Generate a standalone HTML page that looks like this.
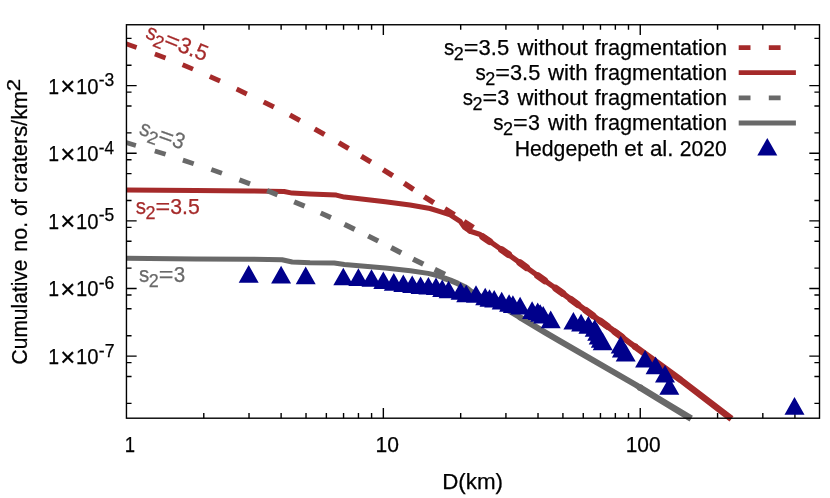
<!DOCTYPE html>
<html><head><meta charset="utf-8"><title>Cumulative crater plot</title>
<style>html,body{margin:0;padding:0;background:#fff}svg{display:block}text{font-family:"Liberation Sans",sans-serif;stroke-width:0.25px}</style></head><body>
<div style="width:830px;height:498px;will-change:transform"><svg width="830" height="498" viewBox="0 0 830 498">
<path d="M203.78 418.2v-5.1M203.78 24.75v5.1M249.02 418.2v-5.1M249.02 24.75v5.1M281.12 418.2v-5.1M281.12 24.75v5.1M306.02 418.2v-5.1M306.02 24.75v5.1M326.36 418.2v-5.1M326.36 24.75v5.1M343.56 418.2v-5.1M343.56 24.75v5.1M358.45 418.2v-5.1M358.45 24.75v5.1M371.59 418.2v-5.1M371.59 24.75v5.1M383.35 418.2v-10.2M383.35 24.75v10.2M460.68 418.2v-5.1M460.68 24.75v5.1M505.92 418.2v-5.1M505.92 24.75v5.1M538.02 418.2v-5.1M538.02 24.75v5.1M562.92 418.2v-5.1M562.92 24.75v5.1M583.26 418.2v-5.1M583.26 24.75v5.1M600.46 418.2v-5.1M600.46 24.75v5.1M615.35 418.2v-5.1M615.35 24.75v5.1M628.49 418.2v-5.1M628.49 24.75v5.1M640.25 418.2v-10.2M640.25 24.75v10.2M717.58 418.2v-5.1M717.58 24.75v5.1M762.82 418.2v-5.1M762.82 24.75v5.1M794.92 418.2v-5.1M794.92 24.75v5.1M126.45 403.34h5.1M819.5 403.34h-5.1M126.45 376.44h5.1M819.5 376.44h-5.1M126.45 362.63h5.1M819.5 362.63h-5.1M126.45 356.08h10.2M819.5 356.08h-10.2M126.45 335.72h5.1M819.5 335.72h-5.1M126.45 308.82h5.1M819.5 308.82h-5.1M126.45 295.01h5.1M819.5 295.01h-5.1M126.45 288.46h10.2M819.5 288.46h-10.2M126.45 268.10h5.1M819.5 268.10h-5.1M126.45 241.20h5.1M819.5 241.20h-5.1M126.45 227.39h5.1M819.5 227.39h-5.1M126.45 220.84h10.2M819.5 220.84h-10.2M126.45 200.48h5.1M819.5 200.48h-5.1M126.45 173.58h5.1M819.5 173.58h-5.1M126.45 159.77h5.1M819.5 159.77h-5.1M126.45 153.22h10.2M819.5 153.22h-10.2M126.45 132.86h5.1M819.5 132.86h-5.1M126.45 105.96h5.1M819.5 105.96h-5.1M126.45 92.15h5.1M819.5 92.15h-5.1M126.45 85.60h10.2M819.5 85.60h-10.2M126.45 65.24h5.1M819.5 65.24h-5.1M126.45 38.34h5.1M819.5 38.34h-5.1" stroke="#000" stroke-width="1.4" fill="none"/>
<clipPath id="c"><rect x="126.45" y="21.75" width="693.05" height="402.45"/></clipPath>
<g clip-path="url(#c)" fill="none" stroke-linejoin="round">
<path d="M126.0 43.7L136.6 47.5" stroke="#a52a2a" stroke-width="4.70"/>
<path d="M154.9 54.1L165.5 58.1" stroke="#a52a2a" stroke-width="4.76"/>
<path d="M182.6 64.7L193.0 69.1" stroke="#a52a2a" stroke-width="4.83"/>
<path d="M209.8 76.4L220.0 81.0" stroke="#a52a2a" stroke-width="4.89"/>
<path d="M236.6 89.1L246.8 93.9" stroke="#a52a2a" stroke-width="4.96"/>
<path d="M263.7 102.0L273.9 107.0" stroke="#a52a2a" stroke-width="5.02"/>
<path d="M289.9 115.1L299.9 120.5" stroke="#a52a2a" stroke-width="5.09"/>
<path d="M314.7 128.9L324.5 134.5" stroke="#a52a2a" stroke-width="5.15"/>
<path d="M338.8 142.8L348.6 148.6" stroke="#a52a2a" stroke-width="5.21"/>
<path d="M361.3 156.3L370.9 162.1" stroke="#a52a2a" stroke-width="5.28"/>
<path d="M383.2 169.8L392.8 175.8" stroke="#a52a2a" stroke-width="5.34"/>
<path d="M404.2 183.2L413.6 189.4" stroke="#a52a2a" stroke-width="5.41"/>
<path d="M424.2 196.7L433.8 202.7" stroke="#a52a2a" stroke-width="5.47"/>
<path d="M444.8 208.9L454.4 214.9" stroke="#a52a2a" stroke-width="5.54"/>
<path d="M463.9 221.5L473.3 227.7" stroke="#a52a2a" stroke-width="5.60"/>
<path d="M482.8 236.8L489.8 241.6M501.6 249.7L508.6 254.5M519.8 262.6L526.6 267.6M537.7 275.7L544.7 280.7M555.8 288.3L562.8 293.3M571.0 299.5L577.8 304.5M586.0 310.5L592.8 315.5M600.6 321.3L607.4 326.3M615.1 332.0L621.9 337.0" stroke="#a52a2a" stroke-width="7.0" stroke-linecap="round"/>
<path d="M120.0 189.9L195.3 190.5L250.0 191.0L284.1 191.5L292.2 193.1L310.0 194.0L336.3 195.1L344.4 197.1L385.3 201.8L410.0 205.0L430.1 208.5L440.1 211.6L450.2 214.9L460.2 221.3L464.2 227.1L470.0 231.2" stroke="#a52a2a" stroke-width="5.0" stroke-linecap="round"/>
<path d="M470.0 231.2L470.2 231.3L479.5 234.2L488.7 240.6L505.1 252.1L523.2 265.1L541.2 278.2L559.3 290.8L560.0 291.3" stroke="#a52a2a" stroke-width="5.2" stroke-linecap="round"/>
<path d="M560.0 291.3L574.4 302.0L592.4 315.3L612.5 330.0L630.0 343.0L635.0 346.6" stroke="#a52a2a" stroke-width="5.9" stroke-linecap="round"/>
<circle cx="635.0" cy="346.6" r="3.25" fill="#a52a2a"/>
<path d="M635.0 346.6L680.8 380.0L731.5 418.9" stroke="#a52a2a" stroke-width="6.5" stroke-linecap="butt"/>
<path d="M125.1 142.2L135.9 145.4" stroke="#696969" stroke-width="4.70"/>
<path d="M154.8 150.9L165.6 154.3" stroke="#696969" stroke-width="4.77"/>
<path d="M182.9 160.1L193.7 163.7" stroke="#696969" stroke-width="4.83"/>
<path d="M211.3 169.5L221.9 173.3" stroke="#696969" stroke-width="4.90"/>
<path d="M239.4 179.9L250.0 183.9" stroke="#696969" stroke-width="4.97"/>
<path d="M267.1 190.6L277.5 194.8" stroke="#696969" stroke-width="5.03"/>
<path d="M294.2 201.8L304.6 206.2" stroke="#696969" stroke-width="5.10"/>
<path d="M320.7 213.0L330.9 217.6" stroke="#696969" stroke-width="5.17"/>
<path d="M344.5 224.4L354.7 229.4" stroke="#696969" stroke-width="5.23"/>
<path d="M368.2 236.0L378.2 241.0" stroke="#696969" stroke-width="5.30"/>
<path d="M391.2 247.7L401.2 252.9" stroke="#696969" stroke-width="5.37"/>
<path d="M413.1 259.1L423.3 264.1" stroke="#696969" stroke-width="5.43"/>
<path d="M434.7 269.5L444.9 274.5" stroke="#696969" stroke-width="5.50"/>
<path d="M120.0 258.2L195.3 258.9L250.0 259.2L282.1 259.7L292.2 262.0L310.0 262.8L334.3 263.1L344.4 264.5L385.3 268.1L410.4 270.8L428.0 273.4L435.0 275.0L445.0 278.5" stroke="#696969" stroke-width="5.0" stroke-linecap="round"/>
<path d="M445.0 278.5L450.5 280.4L457.6 283.4L465.9 287.4L471.0 291.5L510.3 311.6L520.0 317.4" stroke="#696969" stroke-width="5.6" stroke-linecap="round"/>
<path d="M520.0 317.4L530.0 323.4L545.0 332.4L560.0 341.2L636.0 385.0L640.0 387.5" stroke="#696969" stroke-width="6.0" stroke-linecap="round"/>
<circle cx="640.0" cy="387.5" r="3.25" fill="#696969"/>
<path d="M640.0 387.5L660.0 399.8L691.2 418.6" stroke="#696969" stroke-width="6.5" stroke-linecap="butt"/>
</g>
<path d="M248.7 265.1l10.0 17.6h-20.0zM281.1 265.8l10.0 17.6h-20.0zM305.7 266.6l10.0 17.6h-20.0zM343.3 267.7l10.0 17.6h-20.0zM358.4 268.3l10.0 17.6h-20.0zM371.5 269.2l10.0 17.6h-20.0zM383.3 271.4l10.0 17.6h-20.0zM393.8 273.1l10.0 17.6h-20.0zM403.3 274.4l10.0 17.6h-20.0zM412.2 275.5l10.0 17.6h-20.0zM420.6 276.4l10.0 17.6h-20.0zM428.4 277.0l10.0 17.6h-20.0zM436.0 277.4l10.0 17.6h-20.0zM442.2 279.5l10.0 17.6h-20.0zM448.6 280.7l10.0 17.6h-20.0zM460.6 282.2l10.0 17.6h-20.0zM466.2 284.7l10.0 17.6h-20.0zM476.0 285.2l10.0 17.6h-20.0zM485.2 287.7l10.0 17.6h-20.0zM489.5 289.2l10.0 17.6h-20.0zM494.2 290.0l10.0 17.6h-20.0zM501.7 291.8l10.0 17.6h-20.0zM509.1 294.2l10.0 17.6h-20.0zM512.9 295.3l10.0 17.6h-20.0zM520.1 296.8l10.0 17.6h-20.0zM532.1 301.3l10.0 17.6h-20.0zM537.7 302.4l10.0 17.6h-20.0zM540.2 304.2l10.0 17.6h-20.0zM543.2 305.9l10.0 17.6h-20.0zM550.7 310.6l10.0 17.6h-20.0zM573.4 312.0l10.0 17.6h-20.0zM581.1 313.8l10.0 17.6h-20.0zM588.4 316.1l10.0 17.6h-20.0zM594.7 319.2l10.0 17.6h-20.0zM597.2 323.2l10.0 17.6h-20.0zM598.7 326.8l10.0 17.6h-20.0zM600.8 330.1l10.0 17.6h-20.0zM602.7 332.6l10.0 17.6h-20.0zM620.7 335.8l10.0 17.6h-20.0zM621.9 339.8l10.0 17.6h-20.0zM625.7 344.0l10.0 17.6h-20.0zM645.1 349.9l10.0 17.6h-20.0zM655.6 356.6l10.0 17.6h-20.0zM665.0 365.0l10.0 17.6h-20.0zM669.3 377.2l10.0 17.6h-20.0zM794.5 397.1l10.0 17.6h-20.0z" fill="#00008b"/>
<rect x="126.45" y="24.75" width="693.05" height="393.45" fill="none" stroke="#000" stroke-width="1.4"/>
<path d="M738.7 47.7h11.8M768.8 47.7h11.8" stroke="#a52a2a" stroke-width="4.8"/>
<path d="M738.7 72.6H795.9" stroke="#a52a2a" stroke-width="4.8"/>
<path d="M738.7 97.9h11.8M768.8 97.9h11.8" stroke="#696969" stroke-width="4.8"/>
<path d="M738.7 123.0H795.9" stroke="#696969" stroke-width="4.8"/>
<path d="M767.3 138.0l10.0 17.6h-20.0z" fill="#00008b"/>
<text x="444.03" y="55.10" font-size="22.40" textLength="10.29" lengthAdjust="spacingAndGlyphs" stroke="#000">s</text>
<text x="453.80" y="60.00" font-size="17.92" textLength="10.02" lengthAdjust="spacingAndGlyphs" stroke="#000">2</text>
<text x="463.84" y="55.10" font-size="22.40" textLength="14.69" lengthAdjust="spacingAndGlyphs" stroke="#000">=</text>
<text x="478.57" y="55.10" font-size="22.40" textLength="30.61" lengthAdjust="spacingAndGlyphs" stroke="#000">3.5</text>
<text x="517.50" y="55.10" font-size="22.40" textLength="70.29" lengthAdjust="spacingAndGlyphs" stroke="#000">without</text>
<text x="594.68" y="55.10" font-size="22.40" textLength="132.33" lengthAdjust="spacingAndGlyphs" stroke="#000">fragmentation</text>
<text x="475.43" y="80.00" font-size="22.40" textLength="10.29" lengthAdjust="spacingAndGlyphs" stroke="#000">s</text>
<text x="485.20" y="84.90" font-size="17.92" textLength="10.02" lengthAdjust="spacingAndGlyphs" stroke="#000">2</text>
<text x="495.24" y="80.00" font-size="22.40" textLength="14.69" lengthAdjust="spacingAndGlyphs" stroke="#000">=</text>
<text x="509.98" y="80.00" font-size="22.40" textLength="30.29" lengthAdjust="spacingAndGlyphs" stroke="#000">3.5</text>
<text x="548.00" y="80.00" font-size="22.40" textLength="39.57" lengthAdjust="spacingAndGlyphs" stroke="#000">with</text>
<text x="594.68" y="80.00" font-size="22.40" textLength="132.33" lengthAdjust="spacingAndGlyphs" stroke="#000">fragmentation</text>
<text x="462.63" y="105.30" font-size="22.40" textLength="10.29" lengthAdjust="spacingAndGlyphs" stroke="#000">s</text>
<text x="472.40" y="110.20" font-size="17.92" textLength="10.02" lengthAdjust="spacingAndGlyphs" stroke="#000">2</text>
<text x="482.44" y="105.30" font-size="22.40" textLength="14.69" lengthAdjust="spacingAndGlyphs" stroke="#000">=</text>
<text x="497.19" y="105.30" font-size="22.40" textLength="12.06" lengthAdjust="spacingAndGlyphs" stroke="#000">3</text>
<text x="517.50" y="105.30" font-size="22.40" textLength="70.29" lengthAdjust="spacingAndGlyphs" stroke="#000">without</text>
<text x="594.68" y="105.30" font-size="22.40" textLength="132.33" lengthAdjust="spacingAndGlyphs" stroke="#000">fragmentation</text>
<text x="493.33" y="130.20" font-size="22.40" textLength="10.29" lengthAdjust="spacingAndGlyphs" stroke="#000">s</text>
<text x="503.10" y="135.10" font-size="17.92" textLength="10.02" lengthAdjust="spacingAndGlyphs" stroke="#000">2</text>
<text x="513.14" y="130.20" font-size="22.40" textLength="14.69" lengthAdjust="spacingAndGlyphs" stroke="#000">=</text>
<text x="527.89" y="130.20" font-size="22.40" textLength="11.94" lengthAdjust="spacingAndGlyphs" stroke="#000">3</text>
<text x="548.00" y="130.20" font-size="22.40" textLength="39.57" lengthAdjust="spacingAndGlyphs" stroke="#000">with</text>
<text x="594.68" y="130.20" font-size="22.40" textLength="132.33" lengthAdjust="spacingAndGlyphs" stroke="#000">fragmentation</text>
<text x="514.75" y="155.60" font-size="22.40" textLength="103.64" lengthAdjust="spacingAndGlyphs" stroke="#000">Hedgepeth</text>
<text x="624.24" y="155.60" font-size="22.40" textLength="18.76" lengthAdjust="spacingAndGlyphs" stroke="#000">et</text>
<text x="649.96" y="155.60" font-size="22.40" textLength="23.47" lengthAdjust="spacingAndGlyphs" stroke="#000">al.</text>
<text x="679.75" y="155.60" font-size="22.40" textLength="46.89" lengthAdjust="spacingAndGlyphs" stroke="#000">2020</text>
<text x="135.73" y="214.10" font-size="22.40" textLength="10.29" lengthAdjust="spacingAndGlyphs" stroke="#a52a2a" fill="#a52a2a">s</text>
<text x="145.50" y="219.00" font-size="17.92" textLength="10.02" lengthAdjust="spacingAndGlyphs" stroke="#a52a2a" fill="#a52a2a">2</text>
<text x="155.54" y="214.10" font-size="22.40" textLength="14.69" lengthAdjust="spacingAndGlyphs" stroke="#a52a2a" fill="#a52a2a">=</text>
<text x="170.30" y="214.10" font-size="22.40" textLength="29.55" lengthAdjust="spacingAndGlyphs" stroke="#a52a2a" fill="#a52a2a">3.5</text>
<text x="139.03" y="282.20" font-size="22.40" textLength="10.29" lengthAdjust="spacingAndGlyphs" stroke="#696969" fill="#696969">s</text>
<text x="148.80" y="287.10" font-size="17.92" textLength="10.02" lengthAdjust="spacingAndGlyphs" stroke="#696969" fill="#696969">2</text>
<text x="158.84" y="282.20" font-size="22.40" textLength="14.69" lengthAdjust="spacingAndGlyphs" stroke="#696969" fill="#696969">=</text>
<text x="173.63" y="282.20" font-size="22.40" textLength="11.47" lengthAdjust="spacingAndGlyphs" stroke="#696969" fill="#696969">3</text>
<text x="144.43" y="37.80" font-size="22.40" textLength="10.29" lengthAdjust="spacingAndGlyphs" stroke="#a52a2a" fill="#a52a2a" transform="rotate(21.8 145.0 37.8)">s</text>
<text x="154.20" y="42.70" font-size="17.92" textLength="10.02" lengthAdjust="spacingAndGlyphs" stroke="#a52a2a" fill="#a52a2a" transform="rotate(21.8 145.0 37.8)">2</text>
<text x="164.24" y="37.80" font-size="22.40" textLength="14.69" lengthAdjust="spacingAndGlyphs" stroke="#a52a2a" fill="#a52a2a" transform="rotate(21.8 145.0 37.8)">=</text>
<text x="178.99" y="37.80" font-size="22.40" textLength="30.08" lengthAdjust="spacingAndGlyphs" stroke="#a52a2a" fill="#a52a2a" transform="rotate(21.8 145.0 37.8)">3.5</text>
<text x="138.33" y="134.30" font-size="22.40" textLength="10.29" lengthAdjust="spacingAndGlyphs" stroke="#696969" fill="#696969" transform="rotate(19.5 138.9 134.3)">s</text>
<text x="148.10" y="139.20" font-size="17.92" textLength="10.02" lengthAdjust="spacingAndGlyphs" stroke="#696969" fill="#696969" transform="rotate(19.5 138.9 134.3)">2</text>
<text x="158.14" y="134.30" font-size="22.40" textLength="14.69" lengthAdjust="spacingAndGlyphs" stroke="#696969" fill="#696969" transform="rotate(19.5 138.9 134.3)">=</text>
<text x="172.93" y="134.30" font-size="22.40" textLength="11.47" lengthAdjust="spacingAndGlyphs" stroke="#696969" fill="#696969" transform="rotate(19.5 138.9 134.3)">3</text>
<text x="48.14" y="363.98" font-size="22.40" textLength="10.80" lengthAdjust="spacingAndGlyphs" stroke="#000">1</text>
<text x="60.29" y="365.68" font-size="25.70" textLength="15.09" lengthAdjust="spacingAndGlyphs" stroke="#000">×</text>
<text x="76.08" y="363.98" font-size="22.40" textLength="22.53" lengthAdjust="spacingAndGlyphs" stroke="#000">10</text>
<text x="98.81" y="356.68" font-size="17.92" textLength="15.71" lengthAdjust="spacingAndGlyphs" stroke="#000">-7</text>
<text x="48.14" y="296.36" font-size="22.40" textLength="10.80" lengthAdjust="spacingAndGlyphs" stroke="#000">1</text>
<text x="60.29" y="298.06" font-size="25.70" textLength="15.09" lengthAdjust="spacingAndGlyphs" stroke="#000">×</text>
<text x="76.08" y="296.36" font-size="22.40" textLength="22.53" lengthAdjust="spacingAndGlyphs" stroke="#000">10</text>
<text x="98.81" y="289.06" font-size="17.92" textLength="15.56" lengthAdjust="spacingAndGlyphs" stroke="#000">-6</text>
<text x="48.14" y="228.74" font-size="22.40" textLength="10.80" lengthAdjust="spacingAndGlyphs" stroke="#000">1</text>
<text x="60.29" y="230.44" font-size="25.70" textLength="15.09" lengthAdjust="spacingAndGlyphs" stroke="#000">×</text>
<text x="76.08" y="228.74" font-size="22.40" textLength="22.53" lengthAdjust="spacingAndGlyphs" stroke="#000">10</text>
<text x="98.81" y="221.44" font-size="17.92" textLength="15.51" lengthAdjust="spacingAndGlyphs" stroke="#000">-5</text>
<text x="48.14" y="161.12" font-size="22.40" textLength="10.80" lengthAdjust="spacingAndGlyphs" stroke="#000">1</text>
<text x="60.29" y="162.82" font-size="25.70" textLength="15.09" lengthAdjust="spacingAndGlyphs" stroke="#000">×</text>
<text x="76.08" y="161.12" font-size="22.40" textLength="22.53" lengthAdjust="spacingAndGlyphs" stroke="#000">10</text>
<text x="98.83" y="153.82" font-size="17.92" textLength="15.27" lengthAdjust="spacingAndGlyphs" stroke="#000">-4</text>
<text x="48.14" y="93.50" font-size="22.40" textLength="10.80" lengthAdjust="spacingAndGlyphs" stroke="#000">1</text>
<text x="60.29" y="95.20" font-size="25.70" textLength="15.09" lengthAdjust="spacingAndGlyphs" stroke="#000">×</text>
<text x="76.08" y="93.50" font-size="22.40" textLength="22.53" lengthAdjust="spacingAndGlyphs" stroke="#000">10</text>
<text x="98.81" y="86.20" font-size="17.92" textLength="15.56" lengthAdjust="spacingAndGlyphs" stroke="#000">-3</text>
<text x="124.81" y="451.60" font-size="22.40" textLength="10.29" lengthAdjust="spacingAndGlyphs" stroke="#000">1</text>
<text x="375.62" y="451.60" font-size="22.40" textLength="23.42" lengthAdjust="spacingAndGlyphs" stroke="#000">10</text>
<text x="625.73" y="451.60" font-size="22.40" textLength="34.87" lengthAdjust="spacingAndGlyphs" stroke="#000">100</text>
<text x="442.15" y="489.40" font-size="22.40" textLength="60.87" lengthAdjust="spacingAndGlyphs" stroke="#000">D(km)</text>
<g transform="rotate(-90 27.3 221.3)">
<text x="-115.85" y="221.30" font-size="22.40" textLength="104.99" lengthAdjust="spacingAndGlyphs" stroke="#000">Cumulative</text>
<text x="-3.15" y="221.30" font-size="22.40" textLength="29.89" lengthAdjust="spacingAndGlyphs" stroke="#000">no.</text>
<text x="32.54" y="221.30" font-size="22.40" textLength="16.94" lengthAdjust="spacingAndGlyphs" stroke="#000">of</text>
<text x="55.97" y="221.30" font-size="22.40" textLength="101.94" lengthAdjust="spacingAndGlyphs" stroke="#000">craters/km</text>
<text x="157.39" y="213.70" font-size="17.92" textLength="12.35" lengthAdjust="spacingAndGlyphs" stroke="#000">2</text>
</g>
</svg></div></body></html>
